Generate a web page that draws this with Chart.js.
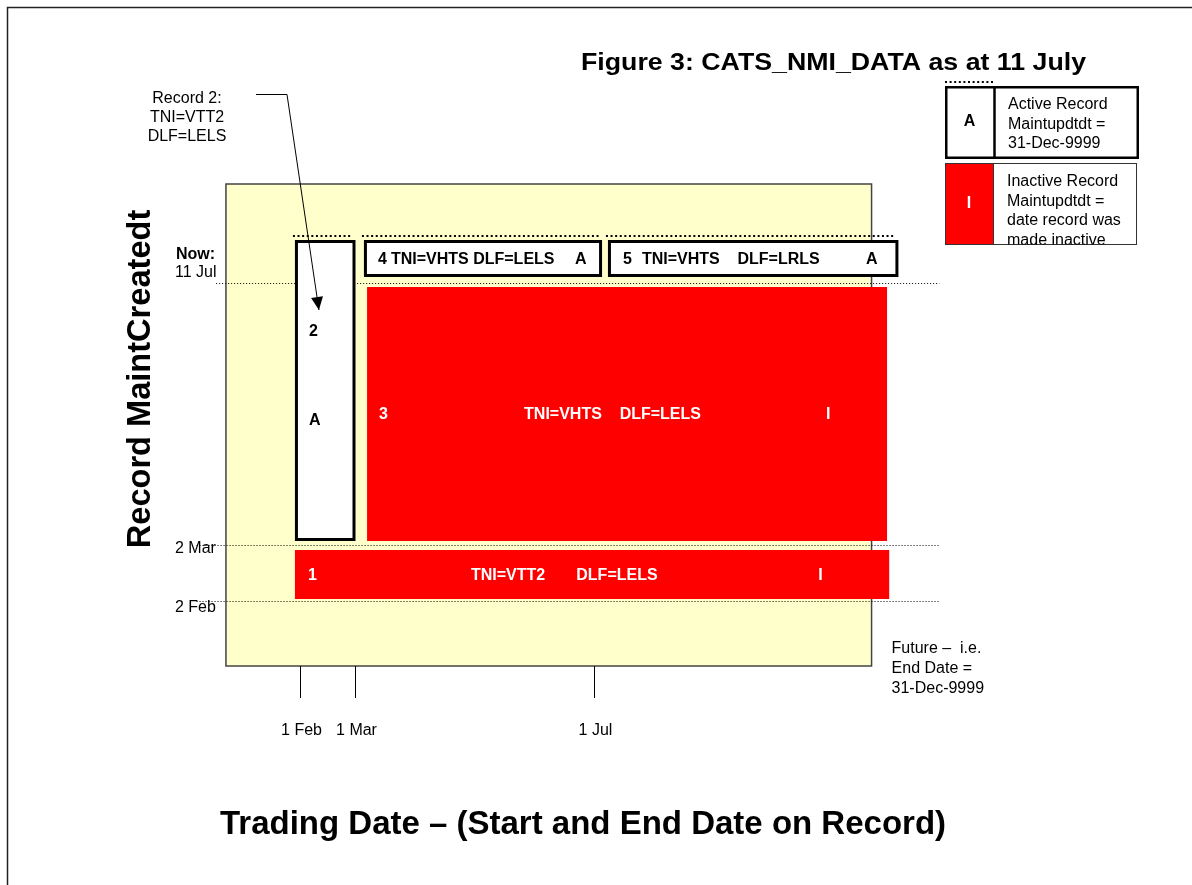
<!DOCTYPE html>
<html>
<head>
<meta charset="utf-8">
<title>Figure 3: CATS_NMI_DATA as at 11 July</title>
<script src="https://cdn.jsdelivr.net/npm/chart.js@4.4.1/dist/chart.umd.min.js"></script>
<style>
  html, body { margin: 0; padding: 0; background: #fff; }
</style>
</head>
<body>
<canvas id="chart" width="1192" height="885"></canvas>
<script>
// Both axes are in day-of-year units (x = trading date, y = MaintCreatedt)
const xTickDays = [32, 60, 182];
const xTickLabels = ['1 Feb', '1 Mar', '1 Jul'];
const yTickDays = [33, 61, 192];
const yTickLabels = ['2 Feb', '2 Mar', '11 Jul'];

// Records as drawn in the figure
const recordIds = ['1', '2', '3', '4', '5'];
const recordStatus = ['I', 'A', 'I', 'A', 'A'];
const recordTni = ['VTT2', 'VTT2', 'VHTS', 'VHTS', 'VHTS'];
const recordDlf = ['LELS', 'LELS', 'LELS', 'LELS', 'LRLS'];
const tradeFrom = [29.2, 29.2, 66, 64.4, 188.9];
const tradeTo = [332.4, 60.1, 331.3, 185.9, 337.1];
const createdFrom = [34, 63, 63, 195, 195];
const createdTo = [58.5, 213.5, 190, 213.5, 213.5];

// shaded window, right edge = future (31-Dec-9999)
const windowX = [-6, 323.4];
const windowY = [0.5, 241.5];

// --- layout (not data) ---
const FONT = '"Liberation Sans", Arial, Helvetica, sans-serif';
const RED = '#ff0000';
const CREAM = '#ffffcc';
const refLineFrom = [-21, -21, -11];   // where each dotted created-date line starts (x days)
const refLineTo = 358;
const yLabelShift = [7, 4, -10];
// text offsets inside each record (px)
const recordLabelLayout = [
    { idDx: 13, midDx: 176, gap: 7, stDx: -71 },
    { idDx: 14, idDy: 92, stDy: 181, vertical: true },
    { idDx: 12, midDx: 157, gap: 4, stDx: -61 },
    { idDx: 14, midDx: 27, gap: 1, stDx: -27 },
    { idDx: 15, midDx: 34, gap: 4, stDx: -32.5 }
];

function font(size, bold) {
    return (bold ? 'bold ' : '') + size + 'px ' + FONT;
}

function stretchText(ctx, text, x, y, width) {
    const w = ctx.measureText(text).width;
    ctx.save();
    ctx.translate(x, y);
    ctx.scale(width / w, 1);
    ctx.fillText(text, 0, 0);
    ctx.restore();
}

const diagramPlugin = {
    id: 'recordDiagram',
    afterDraw(chart) {
        const ctx = chart.ctx;
        const X = v => chart.scales.x.getPixelForValue(v);
        const Y = v => chart.scales.y.getPixelForValue(v);
        ctx.save();

        // page frame
        ctx.strokeStyle = '#222';
        ctx.lineWidth = 1.5;
        ctx.strokeRect(7.5, 7.5, 1400, 1100);

        // title
        ctx.fillStyle = '#000';
        ctx.textAlign = 'left';
        ctx.textBaseline = 'alphabetic';
        ctx.font = font(23, true);
        stretchText(ctx, 'Figure 3: CATS_NMI_DATA as at 11 July', 581, 70, 505);

        // shaded window
        const wl = X(windowX[0]), wr = X(windowX[1]), wt = Y(windowY[1]), wb = Y(windowY[0]);
        ctx.fillStyle = CREAM;
        ctx.fillRect(wl, wt, wr - wl, wb - wt);
        ctx.strokeStyle = '#444';
        ctx.lineWidth = 1.5;
        ctx.strokeRect(wl, wt, wr - wl, wb - wt);

        // dotted created-date lines
        ctx.strokeStyle = '#000';
        ctx.lineWidth = 1;
        ctx.setLineDash([1, 2]);
        yTickDays.forEach((d, i) => {
            const y = Math.round(Y(d)) + 0.5;
            ctx.beginPath();
            ctx.moveTo(X(refLineFrom[i]), y);
            ctx.lineTo(X(refLineTo), y);
            ctx.stroke();
        });
        ctx.setLineDash([]);

        // y labels
        ctx.fillStyle = '#000';
        ctx.textBaseline = 'middle';
        ctx.textAlign = 'left';
        yTickLabels.forEach((lab, i) => {
            const y = Y(yTickDays[i]) + yLabelShift[i];
            ctx.font = font(16, false);
            ctx.fillText(lab, 175, y);
            if (i === yTickLabels.length - 1) {
                ctx.font = font(16, true);
                ctx.fillText('Now:', 176, y - 18.5);
            }
        });

        // x tick marks and labels
        ctx.lineWidth = 1;
        ctx.strokeStyle = '#000';
        xTickDays.forEach((d, i) => {
            const x = Math.round(X(d)) + 0.5;
            ctx.beginPath();
            ctx.moveTo(x, wb);
            ctx.lineTo(x, wb + 32);
            ctx.stroke();
            ctx.font = font(16, false);
            ctx.textAlign = 'center';
            ctx.fillText(xTickLabels[i], x + 1, wb + 65);
        });

        // records
        recordIds.forEach((id, i) => {
            const l = X(tradeFrom[i]), r = X(tradeTo[i]);
            const t = Y(createdTo[i]), b = Y(createdFrom[i]);
            const active = recordStatus[i] === 'A';
            if (active) {
                ctx.fillStyle = '#fff';
                ctx.fillRect(l, t, r - l, b - t);
                ctx.strokeStyle = '#000';
                ctx.lineWidth = 3;
                ctx.strokeRect(l + 1.5, t + 1.5, r - l - 3, b - t - 3);
                // still open: dotted edge above
                ctx.lineWidth = 2;
                ctx.setLineDash([2, 2.6]);
                ctx.beginPath();
                ctx.moveTo(l - 2, t - 4);
                ctx.lineTo(r - 3, t - 4);
                ctx.stroke();
                ctx.setLineDash([]);
            } else {
                ctx.fillStyle = RED;
                ctx.fillRect(l, t, r - l, b - t);
            }

            const lay = recordLabelLayout[i];
            ctx.fillStyle = active ? '#000' : '#fff';
            ctx.font = font(16, true);
            ctx.textAlign = 'left';
            ctx.textBaseline = 'middle';
            if (lay.vertical) {
                ctx.fillText(id, l + lay.idDx, t + lay.idDy);
                ctx.fillText(recordStatus[i], l + lay.idDx, t + lay.stDy);
            } else {
                const y = (t + b) / 2 + 1;
                ctx.fillText(id, l + lay.idDx, y);
                const mid = 'TNI=' + recordTni[i] + ' '.repeat(lay.gap) + 'DLF=' + recordDlf[i];
                ctx.fillText(mid, l + lay.midDx, y);
                ctx.fillText(recordStatus[i], r + lay.stDx, y);
            }
        });

        // callout for record 2
        ctx.fillStyle = '#000';
        ctx.font = font(16, false);
        ctx.textAlign = 'center';
        ctx.textBaseline = 'alphabetic';
        ctx.fillText('Record 2:', 187, 103);
        ctx.fillText('TNI=' + recordTni[1], 187, 122);
        ctx.fillText('DLF=' + recordDlf[1], 187, 141);
        const tipX = X(tradeFrom[1]) + 24, tipY = Y(createdTo[1]) + 70;
        ctx.strokeStyle = '#000';
        ctx.lineWidth = 1;
        ctx.beginPath();
        ctx.moveTo(256, 94.5);
        ctx.lineTo(287, 94.5);
        ctx.lineTo(tipX, tipY);
        ctx.stroke();
        const ang = Math.atan2(tipY - 94.5, tipX - 287);
        ctx.beginPath();
        ctx.moveTo(tipX, tipY);
        ctx.lineTo(tipX - 13 * Math.cos(ang) + 6 * Math.sin(ang), tipY - 13 * Math.sin(ang) - 6 * Math.cos(ang));
        ctx.lineTo(tipX - 13 * Math.cos(ang) - 6 * Math.sin(ang), tipY - 13 * Math.sin(ang) + 6 * Math.cos(ang));
        ctx.closePath();
        ctx.fill();

        // future note
        ctx.textAlign = 'left';
        ctx.font = font(16, false);
        ctx.fillText('Future \u2013  i.e.', wr + 20, wb - 13.5);
        ctx.fillText('End Date =', wr + 20, wb + 6.5);
        ctx.fillText('31-Dec-9999', wr + 20, wb + 26.5);

        // key: active record
        ctx.fillStyle = '#fff';
        ctx.fillRect(945, 86, 194, 73);
        ctx.strokeStyle = '#000';
        ctx.lineWidth = 2.5;
        ctx.strokeRect(946.25, 87.25, 191.5, 70.5);
        ctx.beginPath();
        ctx.moveTo(994.5, 87);
        ctx.lineTo(994.5, 158);
        ctx.stroke();
        ctx.lineWidth = 2;
        ctx.setLineDash([2, 2.6]);
        ctx.beginPath();
        ctx.moveTo(945, 82);
        ctx.lineTo(994, 82);
        ctx.stroke();
        ctx.setLineDash([]);
        ctx.fillStyle = '#000';
        ctx.font = font(16, true);
        ctx.textAlign = 'center';
        ctx.textBaseline = 'middle';
        ctx.fillText('A', 969.5, 122);
        ctx.font = font(16, false);
        ctx.textAlign = 'left';
        ctx.textBaseline = 'alphabetic';
        ctx.fillText('Active Record', 1008, 109);
        ctx.fillText('Maintupdtdt =', 1008, 128.5);
        ctx.fillText('31-Dec-9999', 1008, 148);

        // key: inactive record
        ctx.fillStyle = '#fff';
        ctx.fillRect(945, 163, 192, 82);
        ctx.fillStyle = RED;
        ctx.fillRect(945, 163, 48, 82);
        ctx.strokeStyle = '#333';
        ctx.lineWidth = 1;
        ctx.strokeRect(945.5, 163.5, 191, 81);
        ctx.beginPath();
        ctx.moveTo(993.5, 163);
        ctx.lineTo(993.5, 245);
        ctx.stroke();
        ctx.fillStyle = '#fff';
        ctx.font = font(16, true);
        ctx.textAlign = 'center';
        ctx.textBaseline = 'middle';
        ctx.fillText('I', 969, 204);
        ctx.save();
        ctx.beginPath();
        ctx.rect(994, 164, 142, 80.5);
        ctx.clip();
        ctx.fillStyle = '#000';
        ctx.font = font(16, false);
        ctx.textAlign = 'left';
        ctx.textBaseline = 'alphabetic';
        ctx.fillText('Inactive Record', 1007, 186);
        ctx.fillText('Maintupdtdt =', 1007, 205.5);
        ctx.fillText('date record was', 1007, 225);
        ctx.fillText('made inactive', 1007, 244.5);
        ctx.restore();

        // axis titles
        ctx.fillStyle = '#000';
        ctx.textAlign = 'center';
        ctx.textBaseline = 'alphabetic';
        ctx.font = font(33, true);
        ctx.fillText('Trading Date \u2013 (Start and End Date on Record)', 583, 834);
        ctx.save();
        ctx.translate(150, 379);
        ctx.rotate(-Math.PI / 2);
        ctx.font = font(32.6, true);
        ctx.fillText('Record MaintCreatedt', 0, 0);
        ctx.restore();

        ctx.restore();
    }
};

new Chart(document.getElementById('chart'), {
    type: 'scatter',
    data: { datasets: [] },
    options: {
        responsive: false,
        animation: false,
        events: [],
        layout: { padding: 0 },
        plugins: {
            legend: { display: false },
            tooltip: { enabled: false },
            title: { display: false }
        },
        scales: {
            x: { type: 'linear', min: -121.28, max: 486.89, display: false },
            y: { type: 'linear', min: -109, max: 333.5, display: false }
        }
    },
    plugins: [diagramPlugin]
});
</script>
</body>
</html>
